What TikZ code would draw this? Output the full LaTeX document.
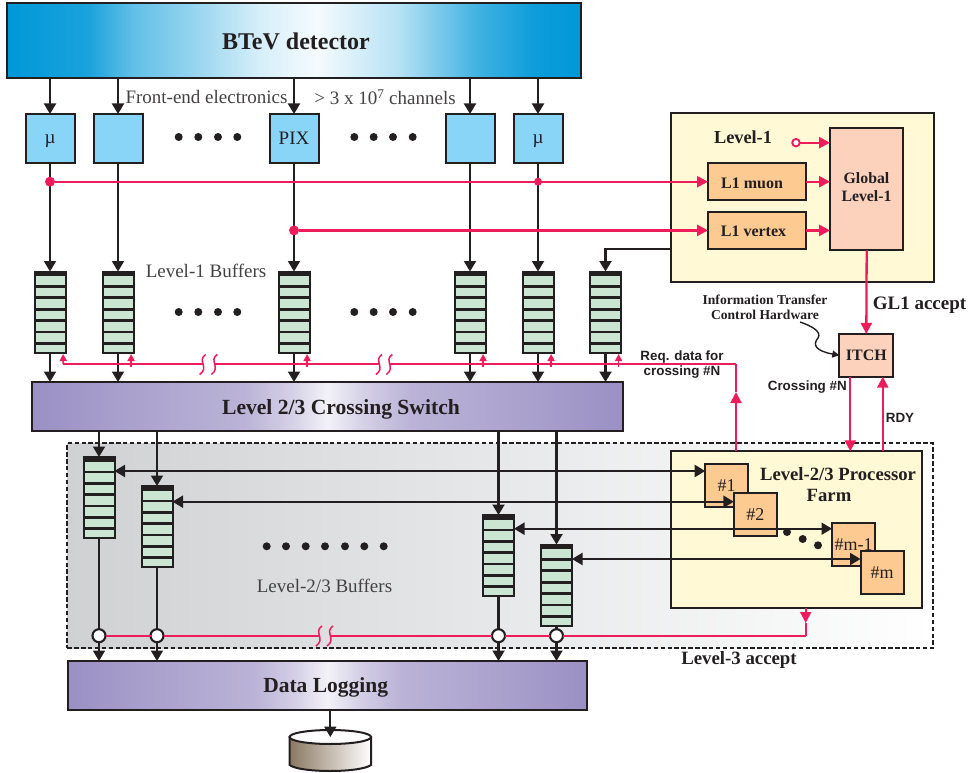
\documentclass[tikz,border=0pt]{standalone}
\usepackage{fontspec}
\setmainfont{Liberation Serif}
\newfontfamily\sanslabel{Liberation Sans}
\usetikzlibrary{arrows.meta}

\definecolor{ink}{HTML}{231F20}
\definecolor{sigred}{HTML}{ED1C5B}
\definecolor{detblue}{HTML}{0098D8}
\definecolor{feblue}{HTML}{89D5F7}
\definecolor{bufgreen}{HTML}{CBE5D3}
\definecolor{lemon}{HTML}{FFF9D6}
\definecolor{peach}{HTML}{FDCB92}
\definecolor{salmon}{HTML}{FCD2BD}
\definecolor{barpurple}{HTML}{9A90C4}
\definecolor{zonegrey}{HTML}{CFD1D3}
\definecolor{diskbrown}{HTML}{8A7862}

\pgfdeclarehorizontalshading{detshade}{100bp}{color(0bp)=(detblue); color(25bp)=(detblue);
  color(32bp)=(detblue!90!white); color(36bp)=(detblue!62!white); color(42bp)=(detblue!38!white);
  color(47bp)=(detblue!16!white); color(52bp)=(detblue!4!white); color(59bp)=(detblue!28!white);
  color(66bp)=(detblue!75!white); color(71bp)=(detblue!95!white); color(75bp)=(detblue); color(100bp)=(detblue)}
\pgfdeclarehorizontalshading{barshade}{100bp}{color(0bp)=(barpurple); color(25bp)=(barpurple);
  color(33bp)=(barpurple!85!white); color(43bp)=(barpurple!68!white); color(47bp)=(barpurple!42!white);
  color(50bp)=(barpurple!12!white); color(53bp)=(barpurple!42!white); color(57bp)=(barpurple!68!white);
  color(67bp)=(barpurple!85!white); color(75bp)=(barpurple); color(100bp)=(barpurple)}

\tikzset{
  bigtip/.tip={Triangle[length=10.5pt,width=12pt]},
  redtip/.tip={Triangle[length=11pt,width=11pt]},
  tinytip/.tip={Triangle[length=7pt,width=7pt]},
  box/.style={draw=ink,line width=2pt,inner sep=0pt,outer sep=0pt,text=ink,align=center},
  febox/.style={box,fill=feblue,minimum width=49pt,minimum height=49pt,font=\fontsize{19}{21}\selectfont},
  bufbox/.style={box,fill=bufgreen,minimum width=31pt,minimum height=81pt,
    path picture={
      \fill[ink] (path picture bounding box.north west) rectangle
        ([yshift=-4.5pt]path picture bounding box.north east);
      \foreach \dy in {15,26.3,37.7,49,60.6,71.7}
        \draw[ink,line width=2.7pt] ([yshift=-\dy pt]path picture bounding box.north west)
          -- ([yshift=-\dy pt]path picture bounding box.north east);
    }},
  barbox/.style={box,shading=barshade,line width=2.3pt},
  unitbox/.style={box,fill=peach,minimum width=98pt,minimum height=37pt},
  procbox/.style={box,fill=peach,minimum width=43pt,minimum height=43pt,font=\fontsize{18}{20}\selectfont},
  panel/.style={box,fill=lemon},
  plain/.style={text=ink!85!white,font=\fontsize{19}{21}\selectfont,inner sep=0pt},
  bold/.style={text=ink,font=\fontsize{#1}{#1}\bfseries\selectfont,inner sep=0pt,align=center},
  sanstxt/.style={text=ink,font=\fontsize{13.4}{15}\sanslabel\bfseries\selectfont,inner sep=0pt,align=center},
  link/.style={draw=ink,line width=2.1pt,-{bigtip}},
  redlink/.style={draw=sigred,line width=2.3pt,-{redtip}},
  busline/.style={draw=sigred,line width=1.7pt},
  ring/.style={circle,draw=ink,fill=white,line width=2.1pt,minimum size=13pt,inner sep=0pt,outer sep=0pt},
  wiggle/.pic={\draw[sigred,line width=1.5pt] (3,-10) .. controls (-6,-4) and (7,3) .. (-3,10);}
}

\begin{document}
\begin{tikzpicture}[x=1pt,y=-1pt]
  \useasboundingbox (0,0) rectangle (969,773);

  % shaded zone of the level-2/3 part
  \node[draw=ink,line width=1.9pt,dash pattern=on 4.5pt off 2.4pt,left color=zonegrey,right color=white,
        minimum width=866pt,minimum height=205pt,inner sep=0pt,outer sep=0pt] (zone) at (500.2,545.8) {};

  \node[box,shading=detshade,line width=2.3pt,minimum width=574pt,minimum height=75pt] (btev) at (294,40.5) {};
  \node[bold=24] (btevtxt) at (296,41) {BTeV detector};

  \foreach \col/\x/\txt in {1/50/\raisebox{-4.7pt}[0pt][0pt]{µ},2/118/,3/294/PIX,4/470/,5/538/\raisebox{-4.7pt}[0pt][0pt]{µ}}
   {\node[febox] (fe\col) at (\x,138.5) {\txt};
    \node[bufbox] (lone\col) at (\x,312) {};
    \draw[link] (btev.south -| fe\col.north) -- (fe\col.north);
    \draw[link] (fe\col.south) -- (lone\col.north);
   }
  \node[bufbox] (lone6) at (605.5,312) {};

  \foreach \x in {178.7,198.3,218,237.3,354.3,373.7,393,412.7}
   {\fill[ink] (\x,137) circle (4pt);
    \fill[ink] (\x,312) circle (4pt);
   }
  \foreach \x in {266.7,286,305.7,325,345,364.3,383.7}
   {\fill[ink] (\x,546.3) circle (4pt);
   }

  \node[plain] (fetxt) at (206.5,97) {Front-end electronics};
  \node[plain] (chtxt) at (385,97) {> 3 x 10\textsuperscript{7} channels};
  \node[plain] (onebuftxt) at (206,271) {Level-1 Buffers};
  \node[plain] (twobuftxt) at (324.5,586) {Level-2/3 Buffers};

  % level-1 trigger
  \node[panel,minimum width=262.7pt,minimum height=169.6pt] (level1) at (802.7,197.5) {};
  \node[bold=18.3] (level1txt) at (743,137) {Level-1};
  \node[box,fill=salmon,minimum width=73.3pt,minimum height=122.3pt] (global) at (866.7,189.2) {};
  \node[bold=15.8] (globaltxt) at (866.5,187) {Global\\[3pt]Level-1};
  \node[unitbox] (l1muon) at (757,181.7) {};
  \node[bold=16] (muontxt) at (752,183) {L1 muon};
  \node[unitbox] (l1vertex) at (757,230.4) {};
  \node[bold=16] (vertextxt) at (753.5,231) {L1 vertex};
  \node[circle,draw=sigred,fill=white,line width=1.9pt,minimum size=7.5pt,inner sep=0pt,outer sep=0pt] (ringin) at (796,142.7) {};

  \draw[link] (level1.west |- l1vertex.south) -| (lone6.north);

  \node[box,fill=salmon,minimum width=54pt,minimum height=42.7pt,font=\fontsize{15.9}{16}\bfseries\selectfont] (itch) at (866.3,355.3) {ITCH};
  \node[bold=19] (gl1txt) at (919.5,305) {GL1 accept};
  \node[bold=13.6] (infotxt) at (765,307) {Information Transfer\\[1.5pt]Control Hardware};
  \coordinate (infotail) at (800,322);
  \draw[draw=ink,line width=1.4pt,-{tinytip}] (infotail) .. controls (812,326) and (822,332) .. (818,338)
     .. controls (812,345) and (816,351) .. (itch.west);

  % level-2/3 farm
  \node[panel,minimum width=250.7pt,minimum height=157pt] (farm) at (796.7,529.8) {};
  \node[bold=18.7] (farmtxt) at (838,474) {Level-2/3 Processor};
  \node[bold=18.7] (farmtxtb) at (829,495) {Farm};
  \foreach \name/\x/\y/\txt in {p1/726.7/485.5/\#1,p2/755.3/514.3/\#2,pm1/853.5/544.2/\#m-1,pm/882/572.8/\#m}
   {\node[procbox] (\name) at (\x,\y) {\txt};
   }
  \foreach \x/\y in {787/532,802.7/539,818/545.3}
   {\fill[ink] (\x,\y) circle (4pt);
   }

  \node[barbox,minimum width=591pt,minimum height=49pt] (switch) at (327.5,406.5) {};
  \node[bold=21.6] (switchtxt) at (341,409.5) {Level 2/3 Crossing Switch};
  \node[barbox,minimum width=518.4pt,minimum height=49pt] (logging) at (327.5,685.5) {};
  \node[bold=21.5] (loggingtxt) at (325.7,687) {Data Logging};

  \foreach \col in {1,...,6}
   {\draw[link] (lone\col.south) -- (lone\col.south |- switch.north);
   }

  \coordinate (gaterow) at (0,635.7);
  \foreach \col/\x/\y in {1/99/497.5,2/157/526.5,3/498.5/555.5,4/556.5/585}
   {\node[bufbox] (ltwo\col) at (\x,\y) {};
    \draw[link] (ltwo\col.north |- switch.south) -- (ltwo\col.north);
    \draw[link] (ltwo\col.south) -- (ltwo\col.south |- logging.north);
    \node[ring] (gate\col) at (ltwo\col |- gaterow) {};
   }
  \foreach \col/\name/\dy in {1/p1/14.5,2/p2/12.6,3/pm1/15.5,4/pm/13.8}
   {\coordinate (hub\col) at ([yshift=\dy pt]\name.west);
    \draw[draw=ink,line width=2.1pt,{bigtip}-{bigtip}] (hub\col -| ltwo\col.east) -- (hub\col);
   }

  % signal lines on top
  \node[circle,fill=sigred,minimum size=10pt,inner sep=0pt] (tap1) at (fe1.south |- l1muon.west) {};
  \node[circle,fill=sigred,minimum size=8pt,inner sep=0pt] (tap2) at (fe5.south |- l1muon.west) {};
  \node[circle,fill=sigred,minimum size=10pt,inner sep=0pt] (tap3) at (fe3.south |- l1vertex.west) {};
  \draw[redlink] (tap1) -- (l1muon.west);
  \draw[redlink] (tap3) -- (l1vertex.west);
  \draw[redlink] (l1muon.east) -- (global.west |- l1muon.east);
  \draw[redlink] (l1vertex.east) -- (global.west |- l1vertex.east);
  \draw[redlink] (ringin) -- (global.west |- ringin);
  \draw[redlink] (global.south) -- (itch.north);
  \draw[redlink] ([xshift=-16pt]itch.south) -- ([xshift=-16pt]itch.south |- farm.north);
  \draw[redlink] ([xshift=16.5pt]itch.south |- farm.north) -- ([xshift=16.5pt]itch.south);

  % request bus with its breaks
  \coordinate (reqfoot) at ([xshift=-60.7pt]farm.north);
  \coordinate (reqmid) at (reqfoot |- 0,392);
  \coordinate (buscorner) at (reqfoot |- 0,364);
  \draw[redlink,line width=1.9pt] (reqfoot) -- (reqmid);
  \draw[draw=sigred,line width=1.9pt] (reqmid) -- (buscorner);
  \draw[busline] (buscorner) -- (389.3,364);
  \draw[busline] (379,364) -- (214.3,364);
  \draw[busline] (202.7,364) -- (63.3,364);
  \foreach \x in {202.7,214.3,379,389.3}
   {\pic at (\x,364.5) {wiggle};
   }
  \draw[busline,-{tinytip}] (63.3,364) -- ([xshift=-2.4pt,yshift=-1.5pt]lone1.south east);
  \foreach \col in {2,...,6}
   {\draw[busline,-{tinytip}] ([xshift=-2.4pt,yshift=-14pt]lone\col.south east) -- ([xshift=-2.4pt,yshift=-1.5pt]lone\col.south east);
   }

  % level-3 accept line
  \coordinate (acceptfoot) at ([xshift=9pt]farm.south);
  \coordinate (acceptmid) at (acceptfoot |- 0,623);
  \coordinate (acceptcorner) at (acceptfoot |- gaterow);
  \draw[redlink,line width=1.8pt] (acceptfoot) -- (acceptmid);
  \draw[draw=sigred,line width=1.7pt] (acceptmid) -- (acceptcorner);
  \draw[busline] (acceptcorner) -- (gate4);
  \draw[busline] (gate4) -- (gate3);
  \draw[busline] (gate3) -- (330,635.7);
  \draw[busline] (319,635.7) -- (gate2);
  \draw[busline] (gate2) -- (gate1);
  \foreach \x in {319,330}
   {\pic at (\x,636) {wiggle};
   }

  \node[sanstxt] (reqtxt) at (682,364.5) {Req. data for\\crossing \#N};
  \node[sanstxt] (crosstxt) at (807.3,387) {Crossing \#N};
  \node[sanstxt] (rdytxt) at (900,418) {RDY};
  \node[bold=18.8] (l3txt) at (739,660) {Level-3 accept};

  % tape store
  \coordinate (disktop) at (330.3,737);
  \shade[left color=diskbrown,right color=white,draw=ink,line width=2pt] (289.6,737) -- (289.6,765)
    .. controls (300,773) and (360,773) .. (371,765) -- (371,737) -- cycle;
  \draw[draw=ink,fill=white,line width=2pt] (disktop) ellipse [x radius=40.7,y radius=7];
  \draw[link] (logging.south -| disktop) -- (disktop);
\end{tikzpicture}
\end{document}
